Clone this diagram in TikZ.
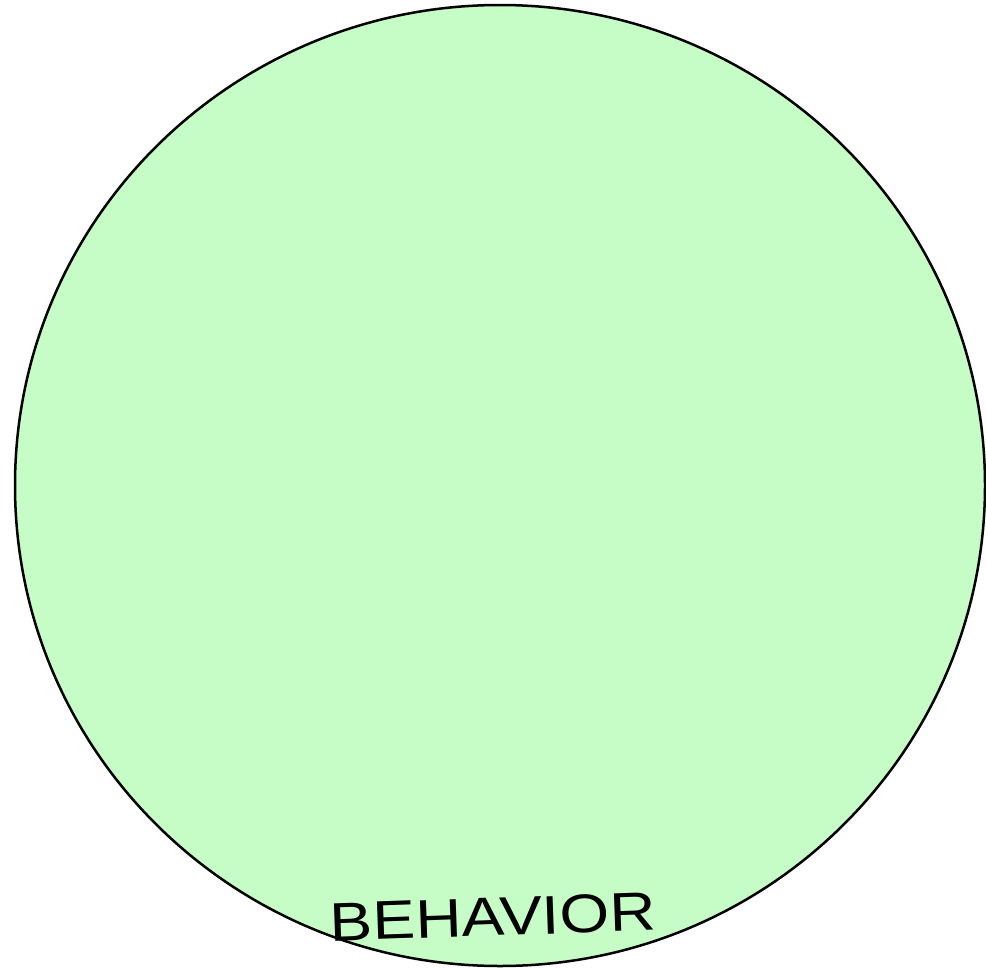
\documentclass[tikz,border=0pt]{standalone}
\usepackage{fontspec}
\setmainfont{Liberation Sans}
\usepackage{graphicx}
\usetikzlibrary{shapes.geometric}
\definecolor{circfill}{HTML}{C6FDC6}
\tikzset{
  bigcircle/.style={draw=black, fill=circfill, line width=2.5pt},
  handlabel/.style={inner sep=0pt, text=black}
}
\begin{document}
\begin{tikzpicture}[x=1pt,y=-1pt]
\useasboundingbox (0,0) rectangle (986,969);
\node[bigcircle, ellipse, minimum width=970pt, minimum height=961pt, inner sep=0pt] (circle) at (500,485.5) {};
\node[handlabel, rotate=2] (label) at (493,917) {\resizebox{326pt}{38pt}{BEHAVIOR}};
\end{tikzpicture}
\end{document}
